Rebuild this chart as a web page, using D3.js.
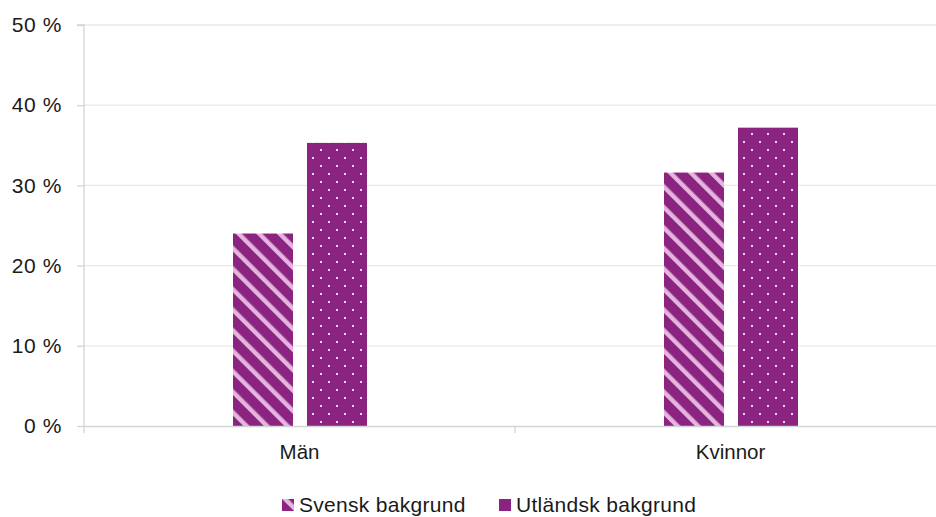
<!DOCTYPE html>
<html>
<head>
<meta charset="utf-8">
<script src="https://cdn.jsdelivr.net/npm/d3@7"></script>
<style>
  body { margin: 0; background: #fff; }
  text { font-family: "Liberation Sans", Arial, sans-serif; fill: #1a1a1a; }
</style>
</head>
<body>
<div id="chart"></div>
<script>
// data
const categories = ["Män", "Kvinnor"];
const seriesNames = ["Svensk bakgrund", "Utländsk bakgrund"];
const svensk = [24.0, 31.6];
const utlandsk = [35.3, 37.2];
const yTicks = [0, 10, 20, 30, 40, 50];

const width = 936;
const height = 517;
const margin = { top: 25, right: -10, bottom: 91, left: 84 };
const purple = "#8b2381";
const pink = "#e4b6de";

const svg = d3.select("#chart")
    .append("svg")
    .attr("width", width)
    .attr("height", height);

const defs = svg.append("defs");

// striped pattern for Svensk bakgrund
const stripes = defs.append("pattern")
    .attr("id", "stripes")
    .attr("patternUnits", "userSpaceOnUse")
    .attr("width", 14.5)
    .attr("height", 14.5)
    .attr("patternTransform", "rotate(-45)");
stripes.append("rect").attr("width", 14.5).attr("height", 14.5).attr("fill", purple);
stripes.append("rect").attr("x", 0).attr("width", 4.4).attr("height", 14.5).attr("fill", pink);

// dotted pattern for Utländsk bakgrund
const dots = defs.append("pattern")
    .attr("id", "dots")
    .attr("patternUnits", "userSpaceOnUse")
    .attr("width", 16)
    .attr("height", 16)
    .attr("x", 307)
    .attr("y", 0);
dots.append("rect").attr("width", 16).attr("height", 16).attr("fill", purple);
dots.append("rect").attr("x", 9).attr("y", 5).attr("width", 2).attr("height", 2).attr("fill", "#f3d9ef");
dots.append("rect").attr("x", 1).attr("y", 13).attr("width", 2).attr("height", 2).attr("fill", "#f3d9ef");

const fills = ["url(#stripes)", "url(#dots)"];

const x0 = d3.scaleBand()
    .domain(categories)
    .range([margin.left, width - margin.right]);

const x1 = d3.scaleBand()
    .domain(seriesNames)
    .range([149, 283])
    .paddingInner(14 / 74);

const y = d3.scaleLinear()
    .domain([0, 50])
    .range([height - margin.bottom, margin.top]);

// gridlines
svg.append("g")
    .selectAll("line")
    .data(yTicks.filter(d => d > 0))
    .enter()
    .append("line")
    .attr("x1", margin.left)
    .attr("x2", width)
    .attr("y1", d => y(d))
    .attr("y2", d => y(d))
    .attr("stroke", "#e8e8e8")
    .attr("stroke-width", 1.3);

// y axis
const yAxis = svg.append("g")
    .attr("transform", `translate(${margin.left},0)`)
    .call(d3.axisLeft(y).tickValues(yTicks).tickSize(7).tickPadding(15).tickFormat(d => d + " %"));
yAxis.select(".domain").attr("stroke", "#d4d4d4").attr("stroke-width", 1.3).attr("d", `M-7,${y(50)}H0V${y(0) + 1}`);
yAxis.selectAll(".tick line").attr("stroke", "#d4d4d4").attr("stroke-width", 1.3);
yAxis.selectAll(".tick text").style("font-size", "21px").style("letter-spacing", "0.6px").attr("fill", "#1a1a1a");

// bars
const rows = categories.map((c, i) => ({ cat: c, values: [svensk[i], utlandsk[i]] }));

const groups = svg.append("g")
    .selectAll("g")
    .data(rows)
    .enter()
    .append("g")
    .attr("transform", d => `translate(${x0(d.cat)},0)`);

groups.selectAll("rect")
    .data(d => d.values.map((v, j) => ({ key: seriesNames[j], value: v, j: j })))
    .enter()
    .append("rect")
    .attr("x", d => x1(d.key))
    .attr("y", d => y(d.value))
    .attr("width", x1.bandwidth())
    .attr("height", d => y(0) - y(d.value))
    .attr("fill", d => fills[d.j]);

// x axis
const xAxis = svg.append("g")
    .attr("transform", `translate(0,${y(0)})`)
    .call(d3.axisBottom(x0).tickSize(0).tickPadding(18));
xAxis.select(".domain").attr("stroke", "#d4d4d4").attr("stroke-width", 1.5);
xAxis.selectAll(".tick text").style("font-size", "20.5px").attr("fill", "#1a1a1a");

// category separator ticks
svg.append("g")
    .selectAll("line")
    .data(categories)
    .enter()
    .append("line")
    .attr("x1", d => x0(d))
    .attr("x2", d => x0(d))
    .attr("y1", y(0))
    .attr("y2", y(0) + 7)
    .attr("stroke", "#d4d4d4")
    .attr("stroke-width", 1.3);

// legend
const legendX = [282, 499];
const legend = svg.append("g")
    .selectAll("g")
    .data(seriesNames)
    .enter()
    .append("g")
    .attr("transform", (d, i) => `translate(${legendX[i]},499)`);

legend.append("rect")
    .attr("width", 12)
    .attr("height", 12)
    .attr("fill", (d, i) => fills[i]);

legend.append("text")
    .attr("x", 17)
    .attr("y", 13)
    .style("font-size", "21px")
    .style("letter-spacing", "0.3px")
    .text(d => d);
</script>
</body>
</html>
